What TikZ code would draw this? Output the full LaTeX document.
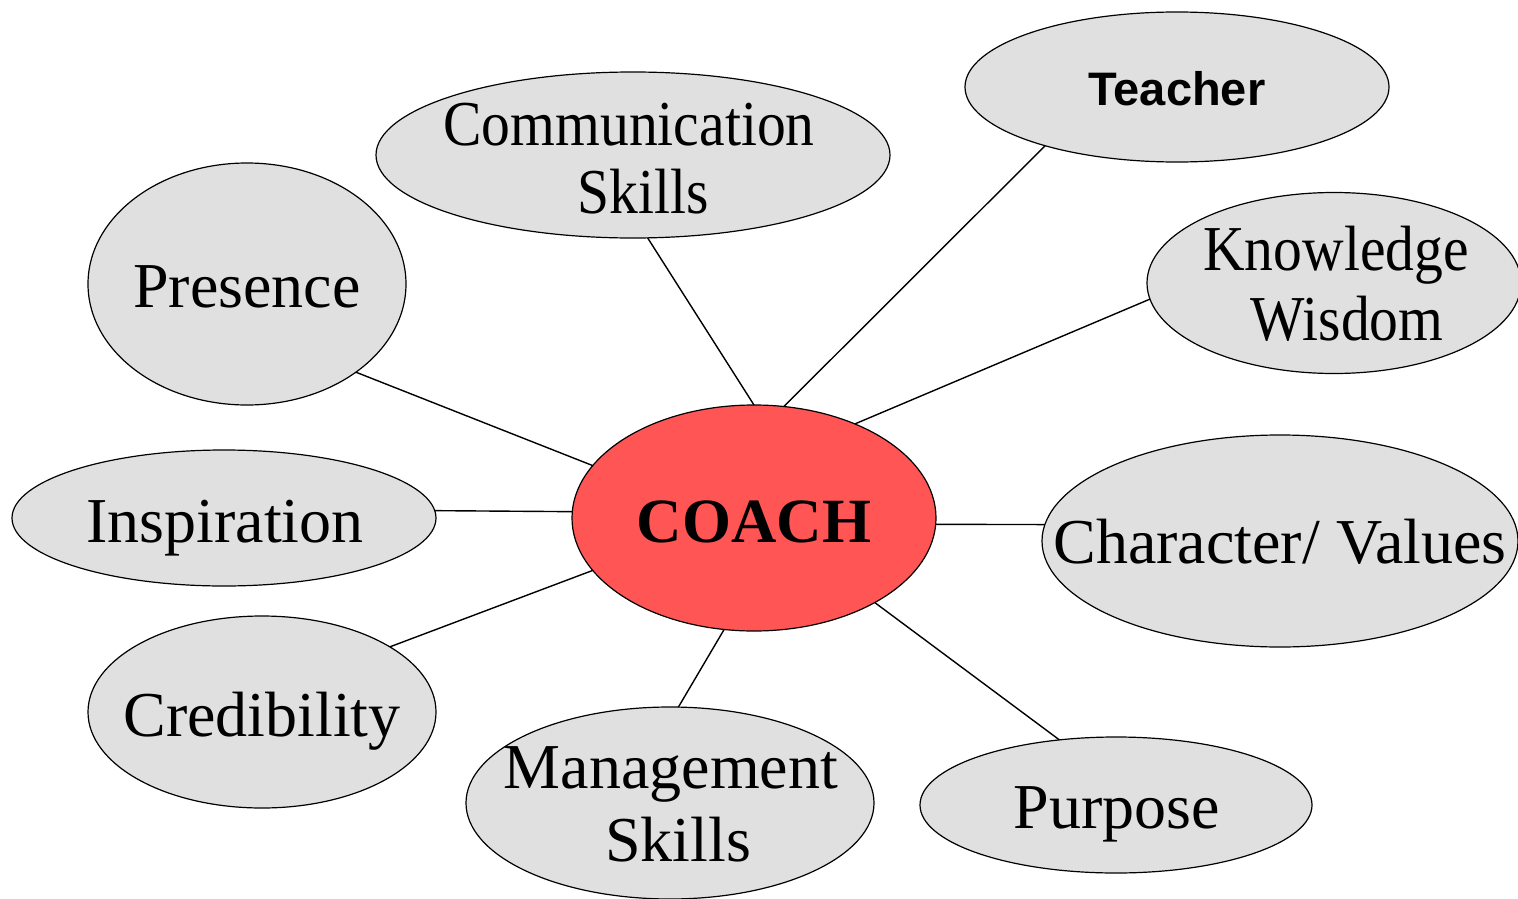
\documentclass[tikz,border=0pt]{standalone}
\usepackage{graphicx}
\usepackage{fontspec}
\setmainfont{Liberation Serif}
\newfontfamily\arialfont{Liberation Sans}
\usetikzlibrary{shapes.geometric}
\definecolor{bubblegray}{HTML}{E0E0E0}
\definecolor{coachred}{HTML}{FF5555}
\tikzset{
  bubble/.style={ellipse, draw=black, line width=1.2pt, fill=bubblegray, inner sep=0pt, outer sep=0pt},
  centre/.style={bubble, fill=coachred},
  lbl/.style={anchor=base, inner sep=0pt, font=\fontsize{64}{69}\selectfont},
  link/.style={draw=black, line width=1.4pt}
}
\newcommand{\narrowtext}[1]{\scalebox{0.9}[1]{#1}}
\begin{document}
\begin{tikzpicture}[x=1pt,y=-1pt]
\useasboundingbox (0,0) rectangle (1518,899);
% ellipses
\node[centre, minimum width=364pt, minimum height=226pt] (coach) at (754,518) {};
\node[bubble, minimum width=514pt, minimum height=166pt] (comm) at (633,155) {};
\node[bubble, minimum width=424pt, minimum height=150pt] (teach) at (1177,87) {};
\node[bubble, minimum width=318pt, minimum height=242pt] (pres) at (247,284) {};
\node[bubble, minimum width=374pt, minimum height=181pt] (know) at (1334,283) {};
\node[bubble, minimum width=424pt, minimum height=136pt] (insp) at (224,518) {};
\node[bubble, minimum width=476pt, minimum height=212pt] (char) at (1280,541) {};
\node[bubble, minimum width=348pt, minimum height=192pt] (cred) at (262,712) {};
\node[bubble, minimum width=408pt, minimum height=192pt] (mgmt) at (670,803) {};
\node[bubble, minimum width=392pt, minimum height=136pt] (purp) at (1116,805) {};
% connectors
\draw[link] (comm.280) -- (coach.90);
\draw[link] (teach.204) -- (coach.75);
\draw[link] (know.185) -- (coach.43);
\draw[link] (pres.321) -- (coach.162);
\draw[link] (insp.2) -- (coach.178);
\draw[link] (char.176) -- (coach.358);
\draw[link] (cred.27) -- (coach.198);
\draw[link] (mgmt.85) -- (coach.255);
\draw[link] (purp.131) -- (coach.325);
% labels
\node[lbl, font=\fontsize{63}{69}\selectfont\bfseries] (tcoach) at (754,542) {COACH};
\node[lbl] (tcomm1) at (629,145) {\narrowtext{Communication}};
\node[lbl] (tcomm2) at (643,213) {\narrowtext{Skills}};
\node[lbl, font=\fontsize{47}{52}\selectfont\arialfont\bfseries] (tteach) at (1177,105) {Teacher};
\node[lbl] (tpres) at (247,307) {Presence};
\node[lbl] (tknow1) at (1336,270) {\narrowtext{Knowledge}};
\node[lbl] (tknow2) at (1347,340) {\narrowtext{Wisdom}};
\node[lbl] (tinsp) at (225,542) {Inspiration};
\node[lbl] (tchar) at (1280,563) {Character/ Values};
\node[lbl] (tcred) at (262,736) {Credibility};
\node[lbl] (tmgmt1) at (671,788) {Management};
\node[lbl] (tmgmt2) at (678,861) {Skills};
\node[lbl] (tpurp) at (1117,828) {Purpose};
\end{tikzpicture}
\end{document}
